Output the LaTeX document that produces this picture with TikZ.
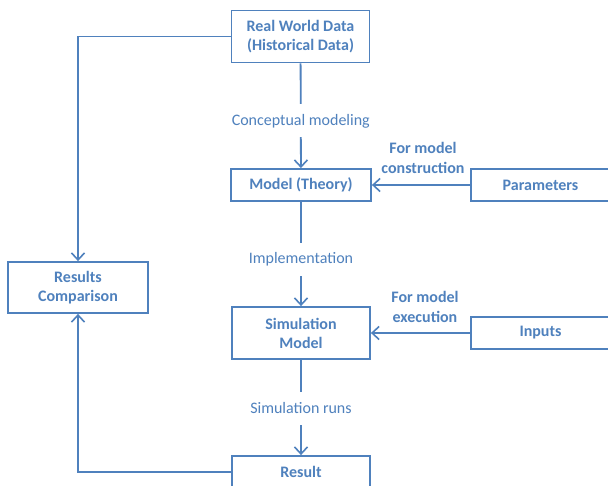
\documentclass[tikz,border=0pt]{standalone}
\usepackage{fontspec}
\setmainfont{Carlito}
\usetikzlibrary{arrows.meta}
\definecolor{blu}{RGB}{79,129,189}
\tikzset{
  box/.style={draw=blu, line width=1.8pt, text=blu, font=\bfseries\fontsize{16}{19}\selectfont, align=center, inner sep=0pt},
  arr/.style={draw=blu, line width=1.8pt, -{Straight Barb[length=7pt,width=13pt,line width=1.6pt]}},
  lbl/.style={fill=white, text=blu, font=\fontsize{16}{19}\selectfont, minimum height=33pt, inner sep=2pt},
  side/.style={text=blu, font=\bfseries\fontsize{16}{20}\selectfont, align=center, inner sep=0pt}
}
\begin{document}
\begin{tikzpicture}[x=1pt,y=-1pt]
\clip (0,0) rectangle (608,486);
\fill[white] (0,0) rectangle (608,486);
\node[box, minimum width=138pt, minimum height=52pt] (rwd) at (300.5,36.5) {Real World Data\\(Historical Data)};
\node[box, minimum width=140pt, minimum height=32pt] (model) at (301,185) {Model (Theory)};
\node[box, minimum width=138pt, minimum height=52pt] (sim) at (301,333) {Simulation\\Model};
\node[box, minimum width=138pt, minimum height=32pt] (result) at (301,472) {Result};
\node[box, minimum width=140pt, minimum height=51pt] (rc) at (78,287.5) {Results\\Comparison};
\node[box, minimum width=139pt, minimum height=32pt] (params) at (540.5,185) {Parameters};
\node[box, minimum width=139pt, minimum height=32pt] (inputs) at (540.5,333) {Inputs};
\draw[arr] (rwd) -- node[lbl, pos=0.55] (l1) {Conceptual modeling} (model);
\draw[arr] (model) -- node[lbl, pos=0.55] (l2) {Implementation} (sim);
\draw[arr] (sim) -- node[lbl, pos=0.51] (l3) {Simulation runs} (result);
\draw[arr] (params) -- (model);
\draw[arr] (inputs) -- (sim);
\node[side] (s1) at (423,158) {For model\\construction};
\node[side] (s2) at (425,307) {For model\\execution};
\draw[arr] (rwd.west) -| (rc.north);
\draw[arr] (result.west) -| (rc.south);
\end{tikzpicture}
\end{document}
